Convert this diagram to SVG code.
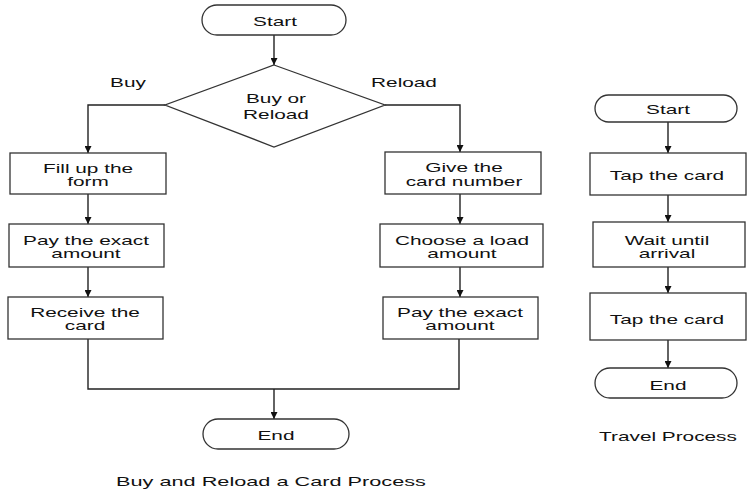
<svg xmlns="http://www.w3.org/2000/svg" width="748" height="492" viewBox="0 0 748 492">
<defs>
<marker id="ah" viewBox="0 0 10 10" refX="10" refY="5" markerWidth="7" markerHeight="7" markerUnits="userSpaceOnUse" orient="auto">
<path d="M0,0 L10,5 L0,10 z" fill="#111"/>
</marker>
<style>
.s{fill:#fff;stroke:#333;stroke-width:1.3}
.t{font-family:"Liberation Sans",Arial,sans-serif;font-size:13px;fill:#111;text-anchor:middle}
.c{fill:none;stroke:#222;stroke-width:1.4}
</style>
</defs>
<rect width="748" height="492" fill="#fff"/>
<g id="connectors">
<line class="c" x1="274" y1="35" x2="274" y2="65" marker-end="url(#ah)"/>
<polyline class="c" points="165,105 88,105 88,153" marker-end="url(#ah)"/>
<polyline class="c" points="385,105 460,105 460,152" marker-end="url(#ah)"/>
<line class="c" x1="88" y1="194" x2="88" y2="224" marker-end="url(#ah)"/>
<line class="c" x1="88" y1="267" x2="88" y2="297" marker-end="url(#ah)"/>
<line class="c" x1="460" y1="194" x2="460" y2="224" marker-end="url(#ah)"/>
<line class="c" x1="460" y1="267" x2="460" y2="297" marker-end="url(#ah)"/>
<polyline class="c" points="88,339 88,389 459,389 459,339"/>
<line class="c" x1="274" y1="389" x2="274" y2="419" marker-end="url(#ah)"/>
<line class="c" x1="668" y1="122" x2="668" y2="153" marker-end="url(#ah)"/>
<line class="c" x1="668" y1="195" x2="668" y2="222" marker-end="url(#ah)"/>
<line class="c" x1="668" y1="267" x2="668" y2="293" marker-end="url(#ah)"/>
<line class="c" x1="668" y1="340" x2="668" y2="368" marker-end="url(#ah)"/>
<text class="t" transform="translate(128 87) scale(1.6 1)">Buy</text>
<text class="t" transform="translate(404 87) scale(1.6 1)">Reload</text>
</g>
<g id="start1"><rect class="s" x="202" y="5" width="144" height="30" rx="15"/><text class="t" transform="translate(275 26) scale(1.6 1)">Start</text></g>
<g id="decision"><polygon class="s" points="274,65 385,105 274,147 165,105"/><text class="t" transform="translate(276 103) scale(1.6 1)">Buy or</text><text class="t" transform="translate(276 119) scale(1.6 1)">Reload</text></g>
<g id="fill"><rect class="s" x="10" y="153" width="156" height="41"/><text class="t" transform="translate(88 173) scale(1.6 1)">Fill up the</text><text class="t" transform="translate(88 186) scale(1.6 1)">form</text></g>
<g id="pay1"><rect class="s" x="9" y="224" width="155" height="43"/><text class="t" transform="translate(86 245) scale(1.6 1)">Pay the exact</text><text class="t" transform="translate(86 258) scale(1.6 1)">amount</text></g>
<g id="receive"><rect class="s" x="8" y="297" width="155" height="42"/><text class="t" transform="translate(85 317) scale(1.6 1)">Receive the</text><text class="t" transform="translate(85 330) scale(1.6 1)">card</text></g>
<g id="give"><rect class="s" x="385" y="152" width="156" height="42"/><text class="t" transform="translate(464 172) scale(1.6 1)">Give the</text><text class="t" transform="translate(464 186) scale(1.6 1)">card number</text></g>
<g id="choose"><rect class="s" x="380" y="224" width="163" height="43"/><text class="t" transform="translate(462 245) scale(1.6 1)">Choose a load</text><text class="t" transform="translate(462 258) scale(1.6 1)">amount</text></g>
<g id="pay2"><rect class="s" x="383" y="297" width="155" height="42"/><text class="t" transform="translate(460 317) scale(1.6 1)">Pay the exact</text><text class="t" transform="translate(460 330) scale(1.6 1)">amount</text></g>
<g id="end1"><rect class="s" x="203" y="419" width="146" height="30" rx="15"/><text class="t" transform="translate(276 440) scale(1.6 1)">End</text></g>
<text class="t" transform="translate(271 486) scale(1.67 1)">Buy and Reload a Card Process</text>
<g id="start2"><rect class="s" x="595" y="95" width="142" height="27" rx="13.5"/><text class="t" transform="translate(668 114) scale(1.6 1)">Start</text></g>
<g id="tap1"><rect class="s" x="590" y="153" width="156" height="42"/><text class="t" transform="translate(667 180) scale(1.6 1)">Tap the card</text></g>
<g id="wait"><rect class="s" x="593" y="222" width="152" height="45"/><text class="t" transform="translate(667 245) scale(1.6 1)">Wait until</text><text class="t" transform="translate(667 258) scale(1.6 1)">arrival</text></g>
<g id="tap2"><rect class="s" x="590" y="293" width="156" height="47"/><text class="t" transform="translate(667 324) scale(1.6 1)">Tap the card</text></g>
<g id="end2"><rect class="s" x="595" y="368" width="142" height="30" rx="15"/><text class="t" transform="translate(668 390) scale(1.6 1)">End</text></g>
<text class="t" transform="translate(668 441) scale(1.6 1)">Travel Process</text>
</svg>
